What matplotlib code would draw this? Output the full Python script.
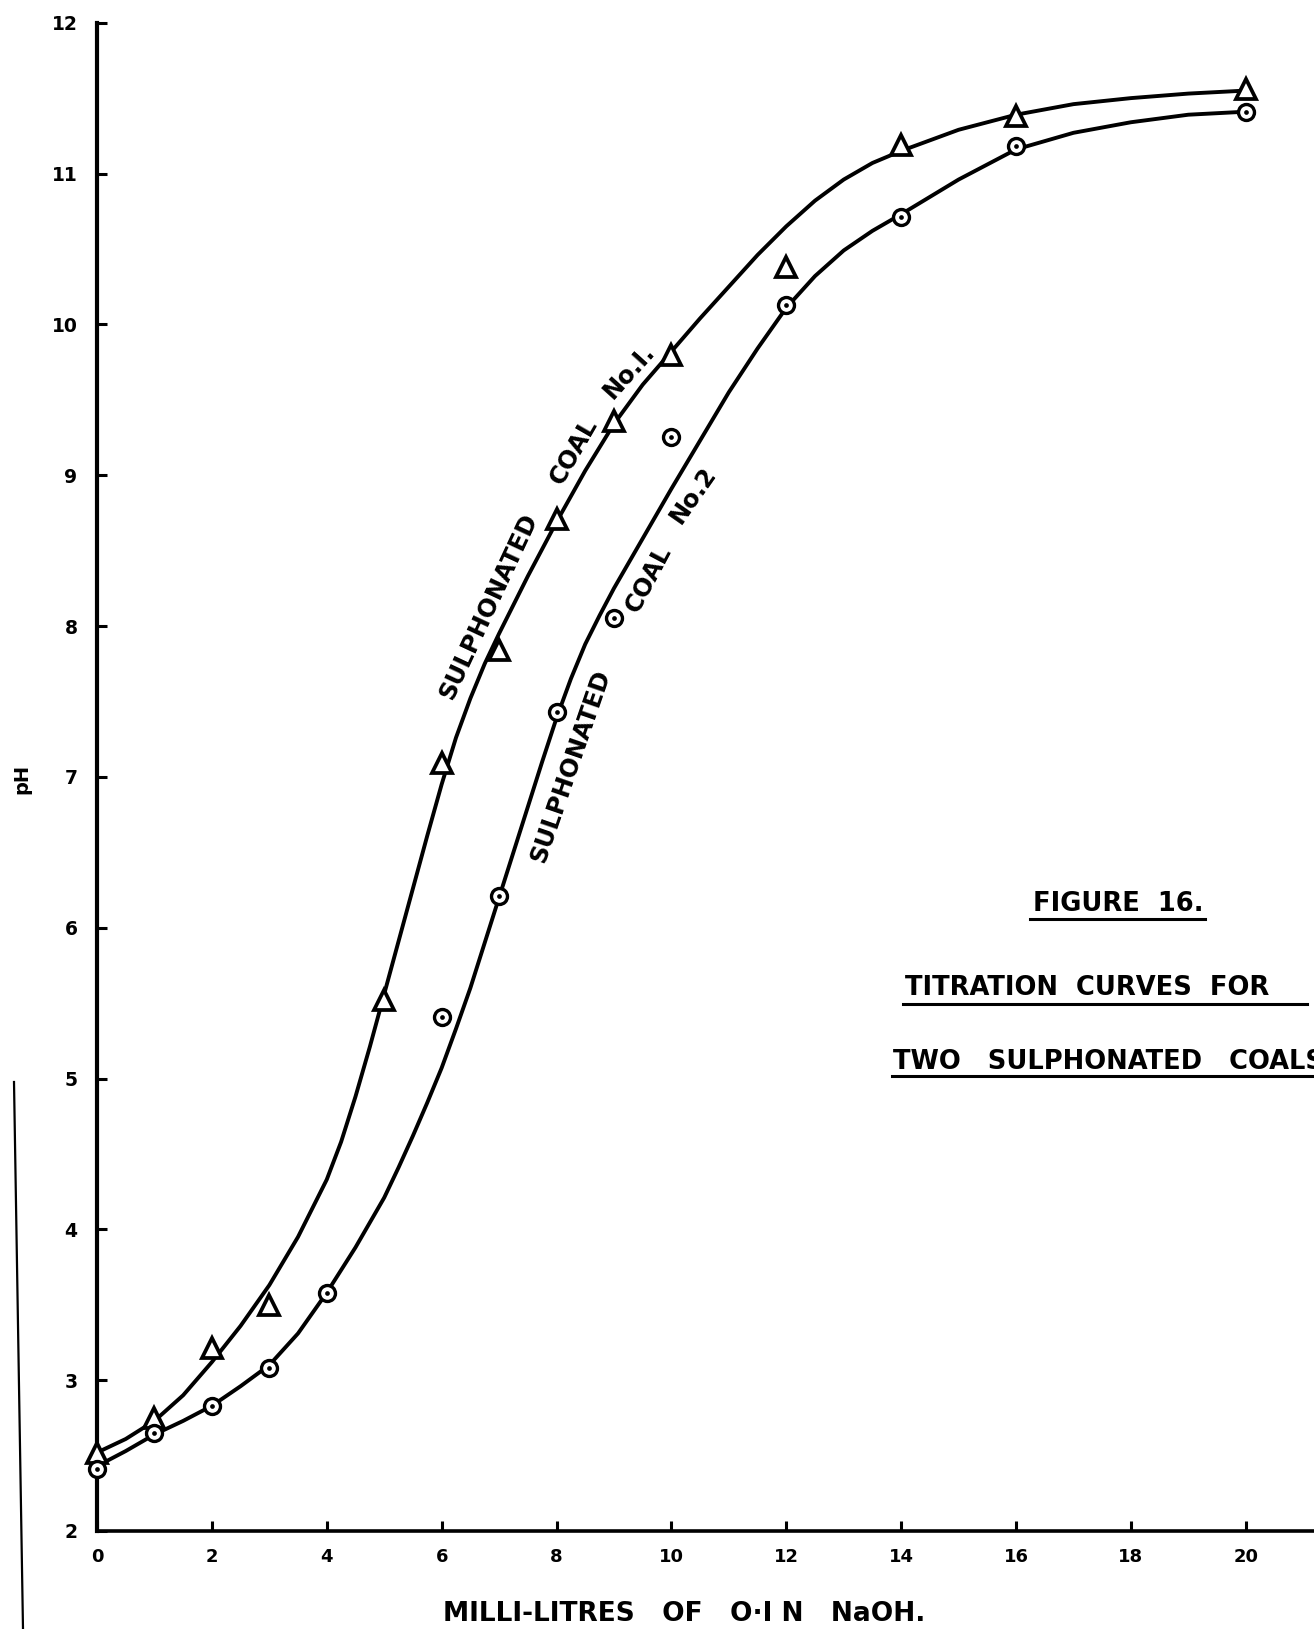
import matplotlib
matplotlib.use("Agg")
import matplotlib.pyplot as plt
from matplotlib.lines import Line2D

# ---------------- data ----------------
x_ticks = [0, 2, 4, 6, 8, 10, 12, 14, 16, 18, 20]
y_ticks = [2, 3, 4, 5, 6, 7, 8, 9, 10, 11, 12]
x_tick_labels = ["0", "2", "4", "6", "8", "10", "12", "14", "16", "18", "20"]
y_tick_labels = ["2", "3", "4", "5", "6", "7", "8", "9", "10", "11", "12"]

# measured points, Sulphonated coal No.1 (triangles)
coal1_ml = [0, 1, 2, 3, 5, 6, 7, 8, 9, 10, 12, 14, 16, 20]
coal1_ph = [2.52, 2.75, 3.21, 3.50, 5.52, 7.09, 7.84, 8.71, 9.36, 9.80, 10.38, 11.19, 11.38, 11.56]

# measured points, Sulphonated coal No.2 (dotted circles)
coal2_ml = [0, 1, 2, 3, 4, 6, 7, 8, 9, 10, 12, 14, 16, 20]
coal2_ph = [2.41, 2.65, 2.83, 3.08, 3.58, 5.41, 6.21, 7.43, 8.05, 9.25, 10.13, 10.71, 11.18, 11.41]

# hand-drawn smooth curves
curve1_ml = [0, 0.5, 1, 1.5, 2, 2.5, 3, 3.5, 4, 4.25, 4.5, 4.75, 5, 5.25, 5.5, 5.75, 6,
             6.25, 6.5, 6.75, 7, 7.5, 8, 8.5, 9, 9.5, 10, 10.5, 11, 11.5, 12, 12.5, 13,
             13.5, 14, 15, 16, 17, 18, 19, 20]
curve1_ph = [2.52, 2.61, 2.73, 2.90, 3.12, 3.36, 3.63, 3.95, 4.33, 4.58, 4.88, 5.21, 5.56,
             5.91, 6.26, 6.61, 6.95, 7.26, 7.52, 7.75, 7.95, 8.33, 8.69, 9.03, 9.34, 9.60,
             9.82, 10.04, 10.25, 10.46, 10.65, 10.82, 10.96, 11.07, 11.15, 11.29, 11.39,
             11.46, 11.50, 11.53, 11.55]

curve2_ml = [0, 0.5, 1, 1.5, 2, 2.5, 3, 3.5, 4, 4.5, 5, 5.25, 5.5, 5.75, 6, 6.25, 6.5,
             6.75, 7, 7.25, 7.5, 7.75, 8, 8.25, 8.5, 8.75, 9, 9.5, 10, 10.5, 11, 11.5, 12,
             12.5, 13, 13.5, 14, 15, 16, 17, 18, 19, 20]
curve2_ph = [2.43, 2.53, 2.64, 2.73, 2.83, 2.96, 3.10, 3.31, 3.58, 3.88, 4.21, 4.41, 4.62,
             4.84, 5.07, 5.33, 5.60, 5.90, 6.20, 6.50, 6.80, 7.10, 7.39, 7.65, 7.88, 8.07,
             8.25, 8.58, 8.91, 9.23, 9.55, 9.84, 10.11, 10.32, 10.49, 10.62, 10.73, 10.96,
             11.16, 11.27, 11.34, 11.39, 11.41]

# ---------------- figure ----------------
W, H = 1314, 1629
fig = plt.figure(figsize=(W / 100, H / 100), dpi=100)
fig.patch.set_facecolor("white")

ax_left, ax_bottom_px, ax_top_px = 97, 1531, 22.7
ax = fig.add_axes([ax_left / W, (H - ax_bottom_px) / H,
                   1 - ax_left / W, (ax_bottom_px - ax_top_px) / H])
ax.set_xlim(0, (W - ax_left) / 57.44)
ax.set_ylim(2, 12)

for s in ["top", "right"]:
    ax.spines[s].set_visible(False)
ax.spines["left"].set_linewidth(3.0)
ax.spines["bottom"].set_linewidth(2.6)

ax.set_xticks(x_ticks)
ax.set_xticklabels(x_tick_labels, fontsize=13, fontweight="bold")
ax.set_yticks(y_ticks)
ax.set_yticklabels(y_tick_labels, fontsize=13.5, fontweight="bold")
ax.tick_params(axis="both", direction="in", length=7, width=2.2, color="black")
ax.tick_params(axis="y", pad=14)
ax.tick_params(axis="x", pad=12)

# curves
ax.plot(curve1_ml, curve1_ph, color="black", lw=2.8, clip_on=False, zorder=2,
        solid_capstyle="round", solid_joinstyle="round")
ax.plot(curve2_ml, curve2_ph, color="black", lw=2.8, clip_on=False, zorder=2,
        solid_capstyle="round", solid_joinstyle="round")

# markers
ax.plot(coal1_ml, coal1_ph, linestyle="none", marker="^", ms=14.5, mew=2.7,
        mfc="white", mec="black", clip_on=False, zorder=4)
ax.plot(coal2_ml, coal2_ph, linestyle="none", marker="o", ms=11.5, mew=2.4,
        mfc="white", mec="black", clip_on=False, zorder=4)
ax.plot(coal2_ml, coal2_ph, linestyle="none", marker="o", ms=3.4, mew=0,
        mfc="black", clip_on=False, zorder=5)

# curve labels (word by word following the curves)
lab_kw = dict(fontsize=17.5, fontweight="bold", ha="center", va="center",
              rotation_mode="anchor", zorder=6)
ax.text(6.82, 8.13, "SULPHONATED", rotation=65, **lab_kw)
ax.text(8.30, 9.16, "COAL", rotation=60, **lab_kw)
ax.text(9.26, 9.69, "No.I.", rotation=48, **lab_kw)

ax.text(8.25, 7.07, "SULPHONATED", rotation=71, **lab_kw)
ax.text(9.61, 8.31, "COAL", rotation=62, **lab_kw)
ax.text(10.38, 8.87, "No.2", rotation=55, **lab_kw)

# axis titles
fig.text(684 / W, 1 - 1614 / H, "MILLI-LITRES   OF   O\u00b7I N   NaOH.",
         fontsize=19, fontweight="bold", ha="center", va="center")
fig.text(22 / W, 1 - 779 / H, "pH", rotation=90, fontsize=14,
         fontweight="bold", ha="center", va="center")

# figure caption block
cap_kw = dict(fontsize=18.5, fontweight="bold", va="center")
fig.text(1118 / W, 1 - 904 / H, "FIGURE  16.", ha="center", **cap_kw)
fig.text(905 / W, 1 - 988 / H, "TITRATION  CURVES  FOR", ha="left", **cap_kw)
fig.text(893 / W, 1 - 1062 / H, "TWO   SULPHONATED   COALS.", ha="left", **cap_kw)

def hline(x0, x1, y, lw=2.2):
    fig.add_artist(Line2D([x0 / W, x1 / W], [1 - y / H, 1 - y / H],
                          transform=fig.transFigure, color="black", lw=lw))

hline(1030, 1205, 919)
hline(903, 1307, 1004)
hline(892, 1314, 1076)

# scanning artefact: thin vertical line at the far left
fig.add_artist(Line2D([14 / W, 23 / W], [1 - 1082 / H, 0],
                      transform=fig.transFigure, color="black", lw=1.6))

fig.savefig("out.png", dpi=100, facecolor="white")
